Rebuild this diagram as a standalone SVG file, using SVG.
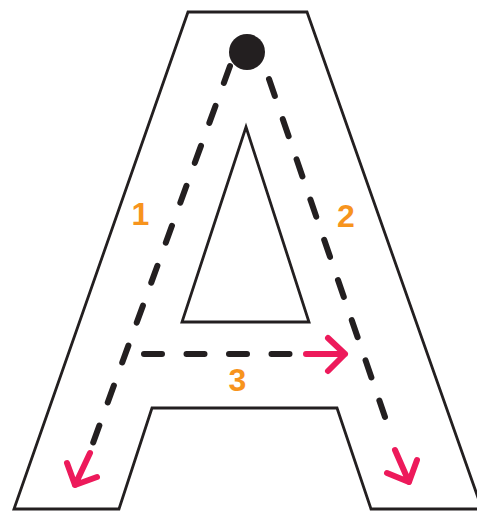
<svg xmlns="http://www.w3.org/2000/svg" width="477" height="512" viewBox="0 0 477 512">
<style>
.outline{fill:none;stroke:#231F20;stroke-width:2.8;stroke-linejoin:miter}
.dash{fill:none;stroke:#231F20;stroke-width:6;stroke-linecap:round;stroke-dasharray:18 24.5}
.arrow{fill:none;stroke:#ED1A5B;stroke-width:6;stroke-linecap:round;stroke-linejoin:round}
.num{fill:#F7941D;font-family:"Liberation Sans",Arial,sans-serif;font-weight:bold;font-size:32px;text-anchor:middle}
</style>
<rect width="477" height="512" fill="#ffffff"/>
<g id="letter-A">
<path class="outline" d="M188,12 L307,12 L482,509 L371,509 L337,408 L152,408 L119,509 L14,509 Z"/>
<path class="outline" d="M246,127 L309,322 L182,322 Z"/>
</g>
<g id="start-dot">
<circle cx="247" cy="52" r="18" fill="#231F20"/>
</g>
<g id="connectors">
<path class="dash" d="M230,66 L93,443"/>
<path class="arrow" d="M90,453 L75,485 M67,463 L75,485 L97,477"/>
<path class="dash" d="M269,79 L385,417"/>
<path class="arrow" d="M395,450 L409,482 M387,473 L409,482 L417,460"/>
<path class="dash" d="M144,354 L291,354"/>
<path class="arrow" d="M306,354 L345,354 M328,338 L345,354 L328,371"/>
</g>
<g id="labels">
<text class="num" x="140.5" y="225">1</text>
<text class="num" x="346" y="227">2</text>
<text class="num" x="237.5" y="391">3</text>
</g>
</svg>
